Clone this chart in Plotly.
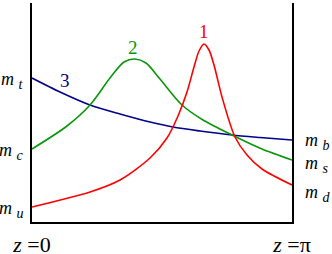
import numpy as np
import plotly.graph_objects as go

PI = np.pi
# x positions as fraction (of 260) of the z range [0, pi]; y in arbitrary mass units (0..219)
blue_x = [0, 28, 58, 88, 118, 141, 168, 200, 228, 260]
blue_y = [144, 130, 117, 108, 100, 95, 91, 87, 84.5, 82]

green_x = [0, 35, 58, 78, 92, 103, 114, 128, 150, 171, 200, 230, 260]
green_y = [73, 96, 117, 144, 160, 163, 159, 143, 117, 102, 87, 73, 62]

red_x = [0, 58, 88, 118, 135, 146, 155, 162, 167, 172, 177, 182, 190, 203, 215, 230, 260]
red_y = [15, 30, 42, 64, 84, 106, 130, 155, 171, 178, 172, 157, 125, 85, 67, 53, 37]

curve_labels = ["1", "2", "3"]
left_subs = ["t", "c", "u"]
right_subs = ["b", "s", "d"]
x_ticks = ["<i>z</i> =0", "<i>z</i> =π"]

def mlabel(s):
    return "<i>m</i> <sub><span style='font-size:14px'><i>%s</i></span></sub>" % s

def zx(v):
    return [p * PI / 260 for p in v]

RED = "#ff0000"
GREEN = "#0a960a"
BLUE = "#00008c"

fig = go.Figure()
for xs, ys, c in [(blue_x, blue_y, BLUE), (green_x, green_y, GREEN), (red_x, red_y, RED)]:
    fig.add_trace(go.Scatter(x=zx(xs), y=ys, mode="lines",
                             line=dict(color=c, width=1.6, shape="spline", smoothing=0.8),
                             hoverinfo="skip", showlegend=False))

serif = "Liberation Serif, Times New Roman, serif"
ann = []
ann.append(dict(x=zx([172])[0], y=max(red_y) + 13, text=curve_labels[0], font=dict(color=RED, size=19, family=serif)))
ann.append(dict(x=zx([101])[0], y=max(green_y) + 12, text=curve_labels[1], font=dict(color=GREEN, size=19, family=serif)))
ann.append(dict(x=zx([33])[0], y=blue_y[1] + 12, text=curve_labels[2], font=dict(color=BLUE, size=19, family=serif)))
for s, yv in zip(left_subs, [blue_y[0], green_y[0], red_y[0]]):
    ann.append(dict(x=0, xref="paper", y=yv, text=mlabel(s), xanchor="right", xshift=-6, yshift=-2,
                    font=dict(color="black", size=18, family=serif)))
for s, yv, ys in zip(right_subs, [blue_y[-1], green_y[-1], red_y[-1]], [0, -3, -7]):
    ann.append(dict(x=1, xref="paper", y=yv, text=mlabel(s), xanchor="left", xshift=11, yshift=ys - 1,
                    font=dict(color="black", size=18, family=serif)))
for a in ann:
    a.setdefault("xref", "x")
    a["yref"] = "y"
    a["showarrow"] = False

fig.update_layout(
    width=332, height=254,
    margin=dict(l=32, r=40, t=3, b=32, autoexpand=False),
    paper_bgcolor="white", plot_bgcolor="white",
    annotations=ann,
    xaxis=dict(range=[0, PI], showgrid=False, zeroline=False, showline=True, linecolor="black", linewidth=2,
               tickvals=[0, PI], ticktext=x_ticks, ticks="", ticklabelstandoff=2, automargin=False,
               tickfont=dict(size=22, family=serif, color="black")),
    yaxis=dict(range=[0, 219], showgrid=False, zeroline=False, showline=True, mirror=True, automargin=False,
               linecolor="black", linewidth=2, showticklabels=False, ticks=""),
)
fig.write_html("out.html", config={"displayModeBar": False},
               post_script="document.body.style.margin='0';document.body.style.overflow='hidden';")
